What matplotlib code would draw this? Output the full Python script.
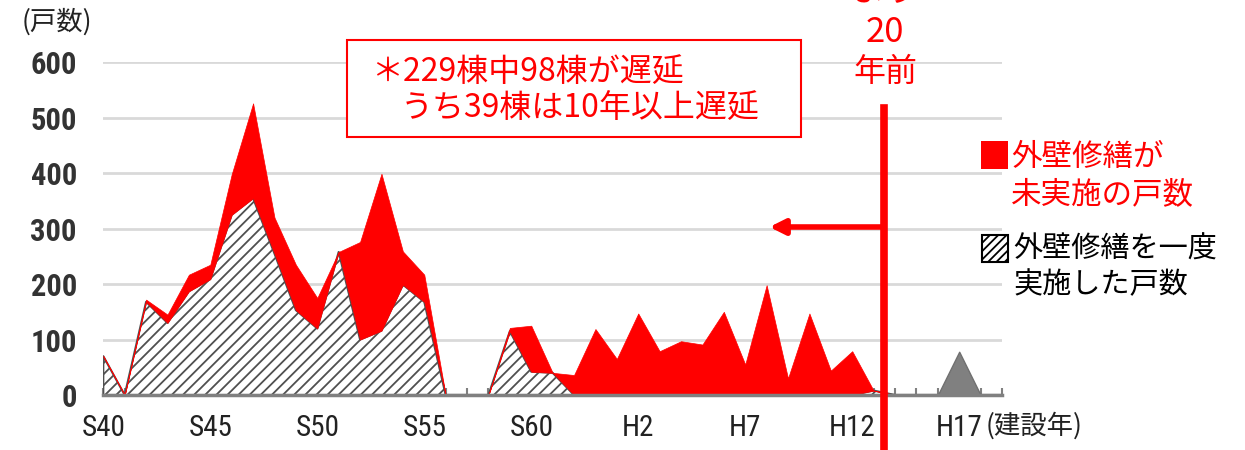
import numpy as np
import matplotlib
matplotlib.use("Agg")
import matplotlib.pyplot as plt
from matplotlib import font_manager
from matplotlib.patches import Rectangle

plt.rcParams['font.family'] = ['Noto Sans CJK JP', 'DejaVu Sans']
plt.rcParams['hatch.linewidth'] = 1.3

# 建設年 S40(1965) .. H19(2007)
years = list(range(1965, 2008))
tick_pos = [0, 5, 10, 15, 20, 25, 30, 35, 40]
tick_lbl = ['S40', 'S45', 'S50', 'S55', 'S60', 'H2', 'H7', 'H12', 'H17']

# 外壁修繕を一度実施した戸数
done = [70, 0, 168, 130, 187, 209, 325, 355, 255, 153,
        120, 258, 100, 116, 199, 168, 0, 0, 0, 115,
        42, 40, 0, 0, 0, 0, 0, 0, 0, 0,
        0, 0, 0, 0, 0, 0, 8, 0, 0, 0,
        0, 0, 0]
# 外壁修繕が未実施の戸数
not_done = [0, 0, 4, 15, 30, 26, 73, 171, 65, 82,
            55, 0, 176, 283, 60, 49, 0, 0, 0, 6,
            83, 0, 36, 119, 65, 147, 79, 97, 91, 150,
            55, 198, 30, 147, 44, 79, 0, 0, 0, 0,
            0, 0, 0]
# 築20年未満
recent = [0]*40 + [78, 0, 0]

W, H = 1245, 450
def fx(x): return x / W
def fy(y): return 1 - y / H

# 細めの数字フォントを探す
names = {f.name for f in font_manager.fontManager.ttflist}
tick_font = 'DejaVu Sans'
for cand in ['Liberation Sans Narrow', 'Roboto Condensed', 'Open Sans Condensed']:
    if cand in names:
        tick_font = cand
        break

x = np.arange(len(years))
done = np.array(done)
total = done + np.array(not_done)

fig = plt.figure(figsize=(W/100, H/100), dpi=100)
ax = fig.add_axes([fx(103.3), fy(395), fx(1002) - fx(103.3), fy(62.3) - fy(395)])

ax.fill_between(x, 0, done, facecolor='white', edgecolor='#505050', hatch='///', lw=1.5, zorder=2)
ax.fill_between(x, done, total, facecolor='#ff0000', edgecolor='#ff0000', lw=0.5, zorder=3)
ax.fill_between(x, 0, recent, facecolor='#808080', edgecolor='#707070', lw=1, zorder=3)

ax.set_xlim(0, len(years) - 1)
ax.set_ylim(0, 600)
ax.set_yticks(range(0, 601, 100))
ax.yaxis.grid(True, color='#d9d9d9', lw=2)
ax.set_axisbelow(True)
ax.set_xticks(x)
ax.set_xticklabels([tick_lbl[tick_pos.index(i)] if i in tick_pos else '' for i in x])
for lbl in ax.get_xticklabels():
    lbl.set_family(tick_font)
    lbl.set_stretch('condensed')
    lbl.set_fontsize(21)
    lbl.set_color('#222222')
for lbl in ax.get_yticklabels():
    lbl.set_family(tick_font)
    lbl.set_stretch('condensed')
    lbl.set_fontsize(22)
    lbl.set_fontweight('bold')
    lbl.set_color('#333333')
ax.tick_params(axis='x', direction='in', length=5, width=1.5, color='#808080', pad=14)
ax.tick_params(axis='y', length=0, pad=19)
for s in ['top', 'right', 'left']:
    ax.spines[s].set_visible(False)
ax.spines['bottom'].set_color('#808080')
ax.spines['bottom'].set_linewidth(2.5)
ax.spines['bottom'].set_zorder(4)

# 20年前ライン
ax.plot([36.5, 36.5], [-100, 518], color='#ff0000', lw=5.5, clip_on=False, zorder=5)
ax.annotate('', xy=(31, 303), xytext=(36.5, 303),
            arrowprops=dict(arrowstyle='-|>,head_length=0.9,head_width=0.45', color='#ff0000', lw=4),
            zorder=5)

fig.text(fx(885), fy(-8), 'より', color='#ff0000', fontsize=24, ha='center', va='center')
fig.text(fx(885), fy(33), '20', color='#ff0000', fontsize=25, ha='center', va='center')
fig.text(fx(885), fy(72), '年前', color='#ff0000', fontsize=23, ha='center', va='center')

# 注記
fig.add_artist(Rectangle((fx(347.3), fy(137.3)), fx(800.7) - fx(347.3), fy(40) - fy(137.3),
                         transform=fig.transFigure, facecolor='white', edgecolor='#ff0000', lw=1.5))
fig.text(fx(371), fy(72), '＊229棟中98棟が遅延', color='#ff0000', fontsize=23, ha='left', va='center')
fig.text(fx(401), fy(108), 'うち39棟は10年以上遅延', color='#ff0000', fontsize=23, ha='left', va='center')

# 凡例
fig.add_artist(Rectangle((fx(980.7), fy(169)), fx(27.3), 28/H, transform=fig.transFigure,
                         facecolor='#ff0000', edgecolor='none'))
fig.text(fx(1011), fy(157), '外壁修繕が', color='#ff0000', fontsize=22, ha='left', va='center')
fig.text(fx(1011), fy(195), '未実施の戸数', color='#ff0000', fontsize=22, ha='left', va='center')
fig.add_artist(Rectangle((fx(981.7), fy(262)), fx(26.3), 27/H, transform=fig.transFigure,
                         facecolor='white', edgecolor='black', hatch='////', lw=1.5))
fig.text(fx(1013), fy(250), '外壁修繕を一度', color='black', fontsize=21, ha='left', va='center')
fig.text(fx(1013), fy(285), '実施した戸数', color='black', fontsize=21, ha='left', va='center')

fig.text(fx(22), fy(22), '(戸数)', color='#222222', fontsize=19, ha='left', va='center')
fig.text(fx(986), fy(426), '(建設年)', color='#222222', fontsize=19, ha='left', va='center')

fig.savefig('out.png', dpi=100)
